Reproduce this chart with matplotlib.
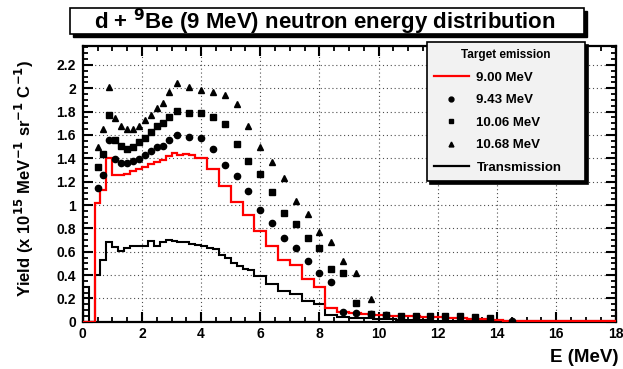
import matplotlib
matplotlib.use("Agg")
import matplotlib.pyplot as plt
from matplotlib.patches import Rectangle
from matplotlib.lines import Line2D
from matplotlib.ticker import MultipleLocator, FuncFormatter

plt.rcParams['font.family'] = ['Liberation Sans', 'DejaVu Sans']
plt.rcParams['font.weight'] = 'bold'
plt.rcParams['mathtext.default'] = 'bf'

# ---------------- data ----------------
# 9.00 MeV target emission histogram (red)
red_edges = [0, 0.4, 0.6, 0.8, 1.0, 1.2, 1.4, 1.6, 1.8, 2.0, 2.2, 2.4, 2.6, 2.8, 3.0, 3.2, 3.4, 3.6, 3.8,
             4.2, 4.6, 5.0, 5.4, 5.8, 6.2, 6.6, 7.0, 7.4, 7.8, 8.2, 8.6, 9.0, 9.4, 9.8, 10.2, 10.6, 11.0,
             11.4, 11.8, 12.2, 12.6, 13.0, 13.4, 13.8, 14.2, 18]
red_vals = [0, 1.02, 1.13, 1.40, 1.255, 1.26, 1.27, 1.29, 1.31, 1.33, 1.355, 1.37, 1.39, 1.42, 1.445,
            1.43, 1.44, 1.43,
            1.40, 1.31, 1.16, 1.03, 0.915, 0.775, 0.65, 0.53, 0.485, 0.37, 0.30, 0.115, 0.086, 0.075,
            0.065, 0.058, 0.052, 0.048, 0.045, 0.04, 0.036, 0.032, 0.028, 0.024, 0.02, 0.016,
            0.004]

# Transmission histogram (black)
tr_edges = [0, 0.2, 0.4, 0.6, 0.8, 1.0, 1.2, 1.4, 1.6, 1.8, 2.0, 2.2, 2.4, 2.6, 2.8, 3.0, 3.2, 3.4, 3.6,
            3.8, 4.0, 4.2, 4.4, 4.6, 4.8, 5.0, 5.2, 5.4, 5.6, 5.8,
            6.2, 6.6, 7.0, 7.4, 7.8, 8.2, 8.6, 9.0, 9.4, 9.8, 10.2, 10.6, 11.0, 11.4, 11.8, 12.2,
            14.2, 18]
tr_vals = [0.30, 0.0, 0.40, 0.53, 0.68, 0.64, 0.61, 0.63, 0.65, 0.65, 0.65, 0.69, 0.65, 0.68, 0.70,
           0.69, 0.68, 0.68, 0.67, 0.66, 0.65, 0.63, 0.62, 0.57, 0.55, 0.50, 0.48, 0.45, 0.44,
           0.39, 0.32, 0.26, 0.24, 0.18, 0.15, 0.057, 0.043, 0.035, 0.03, 0.025, 0.02, 0.018, 0.015,
           0.012, 0.01,
           0.008, 0.003]

# 9.43 MeV (circles)
e943 = [0.5, 0.7, 0.9, 1.1, 1.3, 1.5, 1.7, 1.9, 2.1, 2.3, 2.5, 2.7, 2.9, 3.2, 3.6, 4.0, 4.4, 4.8, 5.2,
        5.6, 6.0, 6.4, 6.8, 7.2, 7.6, 8.0, 8.4, 8.8, 9.25, 9.75, 10.25, 14.5]
y943 = [1.143, 1.257, 1.557, 1.391, 1.357, 1.363, 1.374, 1.397, 1.428, 1.466, 1.494, 1.505, 1.557,
        1.60, 1.58, 1.571, 1.477, 1.343, 1.249, 1.123, 0.957, 0.843, 0.72, 0.634, 0.52, 0.415, 0.343,
        0.086, 0.072, 0.066, 0.057, 0.005]

# 10.06 MeV (squares)
e1006 = [0.5, 0.7, 0.9, 1.1, 1.3, 1.5, 1.7, 1.9, 2.1, 2.3, 2.5, 2.7, 2.9, 3.2, 3.6, 4.0, 4.4, 4.8, 5.2,
         5.6, 6.0, 6.4, 6.8, 7.2, 7.6, 8.0, 8.4, 8.8, 9.25, 9.75, 10.25, 10.75, 11.25, 11.75, 12.25,
         12.75, 13.25, 13.75]
y1006 = [1.323, 1.437, 1.771, 1.557, 1.505, 1.483, 1.497, 1.537, 1.571, 1.628, 1.677, 1.70, 1.752,
         1.809, 1.786, 1.786, 1.752, 1.691, 1.52, 1.375, 1.266, 1.109, 0.929, 0.837, 0.714, 0.634,
         0.452, 0.415, 0.163, 0.066, 0.057, 0.051, 0.051, 0.051, 0.05, 0.045, 0.04, 0.03]

# 10.68 MeV (triangles)
e1068 = [0.5, 0.7, 0.9, 1.1, 1.3, 1.5, 1.7, 1.9, 2.1, 2.3, 2.5, 2.7, 2.9, 3.2, 3.6, 4.0, 4.4, 4.8, 5.2,
         5.6, 6.0, 6.4, 6.8, 7.2, 7.6, 8.0, 8.4, 8.8, 9.25, 9.75]
y1068 = [1.50, 1.649, 2.014, 1.748, 1.677, 1.649, 1.649, 1.677, 1.728, 1.771, 1.828, 1.877, 1.966,
         2.043, 2.014, 1.986, 1.966, 1.943, 1.866, 1.677, 1.494, 1.371, 1.229, 1.037, 0.923, 0.771,
         0.686, 0.523, 0.415, 0.192]

legend_labels = ['9.00 MeV', '9.43 MeV', '10.06 MeV', '10.68 MeV', 'Transmission']
title_text = r'd + $^{\mathbf{9}}$Be (9 MeV) neutron energy distribution'

# ---------------- figure ----------------
W, H = 623, 369
fig = plt.figure(figsize=(W / 100, H / 100), dpi=100)
ax = fig.add_axes([82.7 / W, 1 - 321.7 / H, (615.5 - 82.7) / W, (321.7 - 45.5) / H])

ax.set_xlim(0, 18)
ax.set_ylim(0, 2.367)

ax.grid(True, which='major', linestyle=(0, (1, 2.5)), color='0.3', linewidth=0.8)
ax.set_axisbelow(True)

ax.stairs(tr_vals, tr_edges, color='black', linewidth=1.5, baseline=0, zorder=3)
ax.stairs(red_vals, red_edges, color='#ff0000', linewidth=1.6, baseline=0, zorder=4)

ms = 4.5
ax.plot(e943, y943, 'o', color='black', markersize=ms, zorder=5)
ax.plot(e1006, y1006, 's', color='black', markersize=ms - 0.3, zorder=5)
ax.plot(e1068, y1068, '^', color='black', markersize=ms, zorder=5)

for s in ax.spines.values():
    s.set_linewidth(1.6)

ax.xaxis.set_major_locator(MultipleLocator(2))
ax.xaxis.set_minor_locator(MultipleLocator(0.5))
ax.yaxis.set_major_locator(MultipleLocator(0.2))
ax.yaxis.set_minor_locator(MultipleLocator(0.05))
ax.yaxis.set_major_formatter(FuncFormatter(lambda v, p: f'{v:.1f}'.rstrip('0').rstrip('.') if v else '0'))
ax.tick_params(which='major', direction='in', top=True, right=True, length=7, width=1.5,
               labelsize=10)
ax.tick_params(which='minor', direction='in', top=True, right=True, length=3.5, width=1.3)
ax.tick_params(axis='x', which='major', pad=4)
ax.tick_params(axis='y', which='major', pad=5)
for lab in ax.get_xticklabels() + ax.get_yticklabels():
    lab.set_fontweight('bold')

ax.set_ylabel(r'Yield (x 10$^{\mathbf{15}}$ MeV$^{\mathbf{-1}}$ sr$^{\mathbf{-1}}$ C$^{\mathbf{-1}}$)',
              fontsize=12, fontweight='bold')
ax.yaxis.set_label_coords(-0.088, 0.52)
ax.set_xlabel('E (MeV)', fontsize=13.5, fontweight='bold', loc='right')
ax.xaxis.set_label_coords(1.005, -0.1)

# ---------------- title box ----------------
def fx(px):
    return px / W

def fy(py):
    return 1 - py / H

tb_l, tb_t, tb_r, tb_b = 70, 8, 584, 34
fig.patches.append(Rectangle((fx(tb_l + 3), fy(tb_b + 3)), fx(tb_r - tb_l), (tb_b - tb_t) / H,
                             transform=fig.transFigure, facecolor='black', edgecolor='black', zorder=1))
fig.patches.append(Rectangle((fx(tb_l), fy(tb_b)), fx(tb_r - tb_l), (tb_b - tb_t) / H,
                             transform=fig.transFigure, facecolor='white', edgecolor='black',
                             linewidth=1.2, zorder=2))
fig.text(fx((tb_l + tb_r) / 2 - 2), fy((tb_t + tb_b) / 2 + 1), title_text, ha='center', va='center',
         fontsize=16, fontweight='bold', zorder=3)

# ---------------- legend ----------------
handles = [Line2D([], [], color='#ff0000', lw=1.6),
           Line2D([], [], marker='o', ls='none', color='black', markersize=3.5),
           Line2D([], [], marker='s', ls='none', color='black', markersize=3.3),
           Line2D([], [], marker='^', ls='none', color='black', markersize=3.5),
           Line2D([], [], color='black', lw=1.6)]
lg_l, lg_t, lg_r, lg_b = 427, 42, 585, 176
leg = ax.legend(handles, legend_labels, title='Target emission',
                loc='upper left', bbox_to_anchor=(fx(lg_l), fy(lg_b), fx(lg_r - lg_l), (lg_b - lg_t) / H),
                bbox_transform=fig.transFigure, mode='expand',
                prop={'size': 9.5, 'weight': 'bold'}, title_fontproperties={'size': 8.5, 'weight': 'bold'},
                frameon=True, fancybox=False, edgecolor='black', facecolor='#f2f2f2', framealpha=1,
                shadow={'color': 'black', 'alpha': 1},
                handlelength=2.6, handletextpad=0.6, labelspacing=0.78, borderpad=0.55, borderaxespad=0)
leg.get_frame().set_linewidth(1.2)
leg.set_zorder(10)

fig.savefig('out.png', dpi=100)
